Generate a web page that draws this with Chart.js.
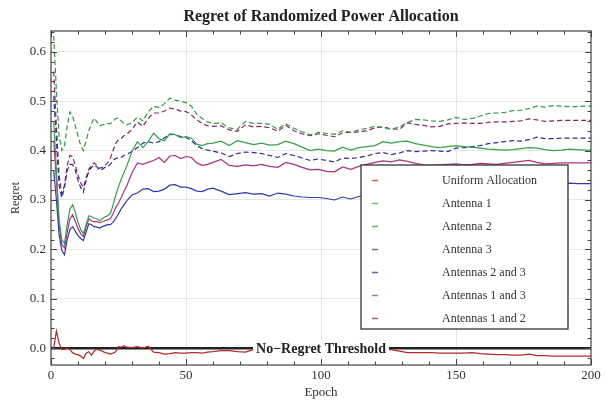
<!DOCTYPE html>
<html lang="en">
<head>
<meta charset="UTF-8">
<title>Regret of Randomized Power Allocation</title>
<script src="https://cdn.jsdelivr.net/npm/chart.js"></script>
<style>
  body { margin: 0; background: #fff; }
  canvas { display: block; }
</style>
</head>
<body>
<canvas id="regretChart" width="606" height="401"></canvas>
<script>
// Epochs sampled from the plot (dense at the start, coarser later)
const epochs = [
  1, 2, 3, 4, 5, 6, 7, 8, 9, 10, 11, 12, 13, 14, 15, 16, 17, 18, 19, 20, 21, 22, 23, 24, 25, 26, 27, 28,
  30, 32, 34, 36, 38, 40, 42, 44, 46, 48, 50, 52, 54, 56, 58, 60,
  63, 66, 69, 72, 75, 78, 81, 84, 87, 90, 93, 96, 99, 102, 105, 108, 111, 114, 117, 120,
  123, 126, 129, 132, 135, 138, 141, 144, 147, 150, 153, 156, 159, 162, 165, 168, 171, 174, 177, 180,
  183, 186, 189, 192, 195, 198,
  200
];

const uniformAllocation = [
  0.0, 0.035, 0.01, -0.003, -0.002, 0.0, -0.003, -0.009, -0.012, -0.013, -0.016, -0.021, -0.01, -0.007, -0.014, -0.006, -0.002, -0.004, -0.006, -0.009, -0.01, -0.012, -0.01, -0.007, 0.003, 0.002, 0.005, 0.002,
  0.001, 0.003, 0.0, 0.004, -0.008, -0.009, -0.012, -0.011, -0.009, -0.01, -0.01, -0.009, -0.009, -0.01, -0.008, -0.007,
  -0.005, -0.005, -0.007, -0.008, -0.003, -0.004, -0.005, -0.004, -0.005, -0.006, -0.005, -0.004, -0.005, -0.006, -0.005, -0.004, -0.005, -0.004, -0.003, -0.004,
  -0.003, -0.003, -0.006, -0.009, -0.009, -0.009, -0.009, -0.01, -0.01, -0.01, -0.01, -0.009, -0.011, -0.012, -0.013, -0.013, -0.014, -0.014, -0.012, -0.015,
  -0.015, -0.016, -0.016, -0.016, -0.016, -0.016,
  -0.016
];

const antenna1 = [
  0.46, 0.36, 0.26, 0.22, 0.212, 0.25, 0.282, 0.29, 0.275, 0.255, 0.24, 0.232, 0.25, 0.268, 0.266, 0.263, 0.262, 0.258, 0.262, 0.266, 0.268, 0.273, 0.29, 0.31, 0.327, 0.342, 0.355, 0.368,
  0.398, 0.418, 0.406, 0.418, 0.435, 0.424, 0.42, 0.434, 0.432, 0.426, 0.428, 0.425, 0.413, 0.41, 0.414, 0.415,
  0.419, 0.41, 0.42, 0.416, 0.412, 0.415, 0.411, 0.412, 0.419, 0.414, 0.407, 0.40, 0.403, 0.40, 0.399, 0.407, 0.401, 0.406, 0.408, 0.41,
  0.418, 0.415, 0.418, 0.419, 0.414, 0.411, 0.408, 0.406, 0.408, 0.41, 0.408, 0.407, 0.405, 0.403, 0.402, 0.401, 0.402, 0.404, 0.406, 0.405,
  0.402, 0.40, 0.401, 0.403, 0.402, 0.401,
  0.401
];

const antenna2 = [
  0.632, 0.52, 0.43, 0.40, 0.41, 0.45, 0.478, 0.47, 0.45, 0.43, 0.41, 0.40, 0.42, 0.44, 0.455, 0.466, 0.458, 0.45, 0.452, 0.453, 0.455, 0.454, 0.46, 0.465, 0.466, 0.46, 0.455, 0.452,
  0.456, 0.468, 0.46, 0.478, 0.49, 0.487, 0.495, 0.506, 0.502, 0.50, 0.497, 0.49, 0.473, 0.465, 0.458, 0.455,
  0.456, 0.446, 0.443, 0.459, 0.455, 0.455, 0.453, 0.443, 0.454, 0.445, 0.438, 0.432, 0.437, 0.435, 0.433, 0.44, 0.437, 0.442, 0.445, 0.449,
  0.447, 0.443, 0.448, 0.457, 0.463, 0.462, 0.46, 0.459, 0.462, 0.467, 0.463, 0.465, 0.47, 0.475, 0.476, 0.477, 0.481, 0.482, 0.485, 0.49,
  0.488, 0.491, 0.49, 0.489, 0.489, 0.49,
  0.49
];

const antenna3 = [
  0.36, 0.30, 0.23, 0.198, 0.189, 0.22, 0.24, 0.246, 0.237, 0.228, 0.222, 0.218, 0.235, 0.252, 0.25, 0.246, 0.245, 0.243, 0.246, 0.248, 0.25, 0.25, 0.255, 0.263, 0.272, 0.282, 0.29, 0.298,
  0.31, 0.314, 0.322, 0.323, 0.317, 0.318, 0.322, 0.33, 0.331, 0.326, 0.326, 0.323, 0.318, 0.317, 0.322, 0.324,
  0.318, 0.311, 0.313, 0.315, 0.312, 0.313, 0.308, 0.314, 0.312, 0.308, 0.306, 0.305, 0.305, 0.303, 0.30, 0.306, 0.302, 0.307, 0.31, 0.311,
  0.313, 0.312, 0.315, 0.317, 0.316, 0.318, 0.32, 0.319, 0.321, 0.322, 0.324, 0.323, 0.325, 0.326, 0.327, 0.327, 0.329, 0.33, 0.332, 0.331,
  0.332, 0.333, 0.333, 0.334, 0.333, 0.333,
  0.333
];

const antennas23 = [
  0.51, 0.42, 0.33, 0.305, 0.325, 0.36, 0.372, 0.372, 0.36, 0.34, 0.325, 0.316, 0.34, 0.358, 0.366, 0.371, 0.367, 0.36, 0.362, 0.366, 0.368, 0.372, 0.38, 0.384, 0.385, 0.386, 0.39, 0.392,
  0.398, 0.406, 0.415, 0.418, 0.415, 0.418, 0.426, 0.432, 0.433, 0.428, 0.427, 0.42, 0.41, 0.404, 0.401, 0.399,
  0.395, 0.388, 0.394, 0.397, 0.396, 0.394, 0.39, 0.386, 0.394, 0.39, 0.385, 0.38, 0.383, 0.38, 0.377, 0.385, 0.384, 0.386, 0.389, 0.394,
  0.396, 0.392, 0.395, 0.40, 0.398, 0.399, 0.40, 0.399, 0.398, 0.405, 0.406, 0.408, 0.41, 0.414, 0.416, 0.418, 0.42, 0.419, 0.422, 0.427,
  0.424, 0.424, 0.425, 0.425, 0.425, 0.425,
  0.425
];

const antennas13 = [
  0.42, 0.34, 0.25, 0.21, 0.203, 0.235, 0.262, 0.27, 0.257, 0.242, 0.232, 0.226, 0.245, 0.262, 0.258, 0.256, 0.256, 0.254, 0.256, 0.258, 0.26, 0.262, 0.272, 0.285, 0.294, 0.305, 0.317, 0.328,
  0.355, 0.375, 0.372, 0.376, 0.38, 0.386, 0.376, 0.389, 0.39, 0.384, 0.388, 0.386, 0.375, 0.37, 0.372, 0.376,
  0.382, 0.37, 0.368, 0.371, 0.369, 0.372, 0.368, 0.366, 0.376, 0.372, 0.366, 0.361, 0.362, 0.358, 0.357, 0.367, 0.362, 0.368, 0.372, 0.376,
  0.379, 0.377, 0.381, 0.378, 0.374, 0.371, 0.37, 0.371, 0.372, 0.373, 0.371, 0.372, 0.374, 0.373, 0.372, 0.374, 0.376, 0.378, 0.38, 0.376,
  0.373, 0.374, 0.375, 0.375, 0.375, 0.375,
  0.375
];

const antennas12 = [
  0.56, 0.45, 0.35, 0.312, 0.33, 0.37, 0.39, 0.388, 0.37, 0.35, 0.335, 0.325, 0.345, 0.362, 0.37, 0.375, 0.37, 0.364, 0.366, 0.37, 0.375, 0.385, 0.40, 0.415, 0.422, 0.425, 0.43, 0.433,
  0.443, 0.458, 0.449, 0.465, 0.476, 0.476, 0.48, 0.486, 0.484, 0.48, 0.479, 0.472, 0.462, 0.455, 0.45, 0.449,
  0.45, 0.442, 0.439, 0.452, 0.448, 0.449, 0.446, 0.439, 0.451, 0.44, 0.434, 0.43, 0.434, 0.431, 0.428, 0.436, 0.437, 0.438, 0.44, 0.446,
  0.448, 0.444, 0.443, 0.456, 0.453, 0.451, 0.448, 0.449, 0.454, 0.455, 0.456, 0.455, 0.455, 0.457, 0.458, 0.458, 0.459, 0.46, 0.464, 0.462,
  0.459, 0.46, 0.461, 0.461, 0.461, 0.461,
  0.461
];

// No-regret threshold line
const thresholdEpochs = [0, 200];
const thresholdValues = [0, 0];

const SERIF = '"Liberation Serif", "DejaVu Serif", serif';

function toPoints(xs, ys) {
  return ys.map((v, i) => ({ x: xs[i], y: v }));
}

function series(label, values, color, dashed) {
  return {
    label: label,
    data: toPoints(epochs, values),
    borderColor: color,
    borderWidth: 1.2,
    borderDash: dashed ? [5, 3] : [],
    pointRadius: 0,
    tension: 0,
    inLegend: true
  };
}

const datasets = [
  series('Uniform Allocation', uniformAllocation, '#b5272d', false),
  series('Antenna 1', antenna1, '#36a04b', false),
  series('Antenna 2', antenna2, '#2f9a47', true),
  series('Antenna 3', antenna3, '#3838aa', false),
  series('Antennas 2 and 3', antennas23, '#2c2c9c', true),
  series('Antennas 1 and 3', antennas13, '#b0307e', false),
  series('Antennas 1 and 2', antennas12, '#8e2262', true),
  {
    label: 'No-Regret Threshold',
    data: toPoints(thresholdEpochs, thresholdValues),
    borderColor: '#222',
    borderWidth: 2.6,
    pointRadius: 0,
    inLegend: false
  }
];

// Mathematica-like frame with inward ticks on all four sides
const framePlugin = {
  id: 'frame',
  afterDatasetsDraw(chart) {
    const { ctx, chartArea: a, scales: { x, y } } = chart;
    ctx.save();
    ctx.strokeStyle = '#444';
    ctx.lineWidth = 1;
    ctx.beginPath();
    for (let e = 0; e <= 200; e += 10) {
      const px = Math.round(x.getPixelForValue(e)) + 0.5;
      const len = e % 50 === 0 ? 6 : 3.5;
      ctx.moveTo(px, a.bottom); ctx.lineTo(px, a.bottom - len);
      ctx.moveTo(px, a.top); ctx.lineTo(px, a.top + len);
    }
    for (let k = -1; k <= 32; k++) {
      const py = Math.round(y.getPixelForValue(k * 0.02)) + 0.5;
      if (py < a.top || py > a.bottom) continue;
      const len = k % 5 === 0 ? 6 : 3.5;
      ctx.moveTo(a.left, py); ctx.lineTo(a.left + len, py);
      ctx.moveTo(a.right, py); ctx.lineTo(a.right - len, py);
    }
    ctx.stroke();
    ctx.lineWidth = 1.2;
    ctx.strokeRect(a.left, a.top, a.right - a.left, a.bottom - a.top);
    ctx.restore();
  }
};

// Label sitting on the threshold line
const thresholdLabel = {
  id: 'thresholdLabel',
  afterDatasetsDraw(chart) {
    const { ctx, scales: { x, y } } = chart;
    const text = 'No\u2212Regret Threshold';
    ctx.save();
    ctx.font = 'bold 14px ' + SERIF;
    const w = ctx.measureText(text).width;
    const cx = x.getPixelForValue(100);
    const cy = y.getPixelForValue(0);
    ctx.fillStyle = '#fff';
    ctx.fillRect(cx - w / 2 - 3, cy - 8, w + 6, 16);
    ctx.fillStyle = '#222';
    ctx.textAlign = 'center';
    ctx.textBaseline = 'middle';
    ctx.fillText(text, cx, cy + 1);
    ctx.restore();
  }
};

// Boxed legend in the lower right of the plot
const boxLegend = {
  id: 'boxLegend',
  afterDatasetsDraw(chart) {
    const { ctx, chartArea: a } = chart;
    const left = a.right - 230, top = a.top + 134, w = 207, h = 164;
    ctx.save();
    ctx.fillStyle = '#fff';
    ctx.fillRect(left, top, w, h);
    ctx.strokeStyle = '#333';
    ctx.lineWidth = 1.3;
    ctx.strokeRect(left, top, w, h);
    ctx.font = '12px ' + SERIF;
    ctx.textBaseline = 'middle';
    ctx.textAlign = 'left';
    const items = chart.data.datasets.filter(d => d.inLegend);
    items.forEach((d, i) => {
      const ry = Math.round(top + 14.5 + i * 23) + 0.5;
      ctx.strokeStyle = d.borderColor;
      ctx.globalAlpha = 0.75;
      ctx.lineWidth = 1.5;
      ctx.beginPath();
      ctx.moveTo(left + 11, ry);
      ctx.lineTo(left + 17, ry);
      ctx.stroke();
      ctx.globalAlpha = 1;
      ctx.fillStyle = '#333';
      ctx.fillText(d.label, left + 81, ry);
    });
    ctx.restore();
  }
};

const plotTitle = {
  id: 'plotTitle',
  afterDraw(chart) {
    const { ctx, chartArea: a } = chart;
    ctx.save();
    ctx.font = 'bold 16px ' + SERIF;
    ctx.fillStyle = '#222';
    ctx.textAlign = 'center';
    ctx.textBaseline = 'middle';
    ctx.fillText('Regret of Randomized Power Allocation', (a.left + a.right) / 2, 17);
    ctx.restore();
  }
};

const gridColor = edgeValues => c =>
  (c.tick && edgeValues.includes(c.tick.value)) ? 'rgba(0,0,0,0)' : '#e6e6e6';

new Chart(document.getElementById('regretChart'), {
  type: 'line',
  data: { datasets: datasets },
  options: {
    responsive: false,
    animation: false,
    layout: { padding: { left: 0, right: 15, top: 31, bottom: 0 } },
    plugins: {
      legend: { display: false },
      tooltip: { enabled: false },
      title: { display: false }
    },
    scales: {
      x: {
        type: 'linear',
        min: 0,
        max: 200,
        afterFit: s => { s.height = 36; },
        ticks: { stepSize: 50, padding: 3, color: '#333', font: { family: SERIF, size: 13 }, maxRotation: 0 },
        grid: { color: gridColor([0, 200]), drawTicks: false },
        border: { display: false },
        title: { display: true, text: 'Epoch', color: '#333', font: { family: SERIF, size: 13 }, padding: { top: 0, bottom: 1 } }
      },
      y: {
        min: -0.034,
        max: 0.642,
        afterFit: s => { s.width = 51; },
        ticks: {
          stepSize: 0.1,
          includeBounds: false,
          padding: 5,
          color: '#333',
          font: { family: SERIF, size: 13 },
          callback: v => (Math.round(v * 10) / 10).toFixed(1)
        },
        grid: { color: gridColor([]), drawTicks: false },
        border: { display: false },
        title: { display: true, text: 'Regret', color: '#333', font: { family: SERIF, size: 12 }, padding: { top: 9, bottom: 0 } }
      }
    }
  },
  plugins: [framePlugin, thresholdLabel, boxLegend, plotTitle]
});
</script>
</body>
</html>
